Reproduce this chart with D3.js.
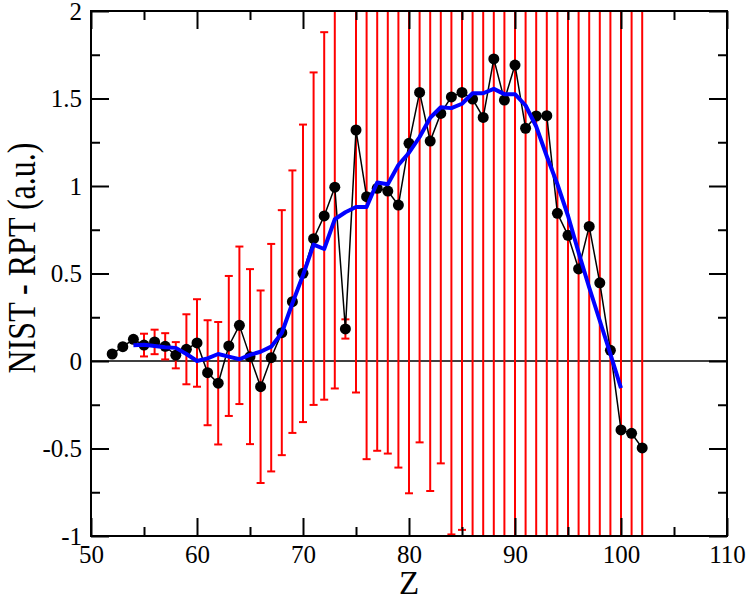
<!DOCTYPE html>
<html>
<head>
<meta charset="utf-8">
<script src="https://cdn.jsdelivr.net/npm/d3@7"></script>
<style>
  body { margin: 0; background: #fff; }
</style>
</head>
<body>
<svg></svg>
<script>
  // measured points (NIST - RPT) per Z, with their error bars
  let zValues = [52, 53, 54, 55, 56, 57, 58, 59, 60, 61, 62, 63, 64, 65, 66, 67, 68, 69, 70,
    71, 72, 73, 74, 75, 76, 77, 78, 79, 80, 81, 82, 83, 84, 85, 86, 87, 88, 89, 90,
    91, 92, 93, 94, 95, 96, 97, 98, 99, 100, 101, 102]
  let diffValues = [0.04, 0.082, 0.124, 0.091, 0.109, 0.084, 0.033, 0.067, 0.103, -0.067,
    -0.127, 0.086, 0.204, 0.025, -0.147, 0.019, 0.162, 0.339, 0.501,
    0.699, 0.829, 0.993, 0.183, 1.32, 0.939, 0.987, 0.971, 0.891, 1.244, 1.535,
    1.257, 1.415, 1.509, 1.535, 1.497, 1.392, 1.726, 1.491, 1.691,
    1.33, 1.40, 1.402, 0.844, 0.718, 0.526, 0.769, 0.447, 0.061, -0.394, -0.413, -0.497]
  let errValues = [0, 0, 0, 0.065, 0.07, 0.075, 0.075, 0.2, 0.25, 0.3, 0.35, 0.4, 0.45, 0.5,
    0.55, 0.65, 0.7, 0.75, 0.85, 0.95, 1.05, 1.15, 0.055, 1.5, 1.5, 1.5, 1.5, 1.5,
    2.0, 2.0, 2.0, 2.0, 2.5, 2.5, 3, 3, 3, 3, 3, 3, 3, 3, 3, 3, 3, 3, 3, 3, 3, 3, 3]

  // smooth (blue) curve
  let fitZ = [54, 55, 56, 57, 58, 59, 60, 61, 62, 63, 64, 65, 66, 67, 68, 69, 70, 71, 72, 73,
    74, 75, 76, 77, 78, 79, 80, 81, 82, 83, 84, 85, 86, 87, 88, 89, 90, 91, 92, 93,
    94, 95, 96, 97, 98, 99, 100]
  let fitValues = [0.09, 0.093, 0.086, 0.078, 0.075, 0.04, 0.0, 0.015, 0.04, 0.025, 0.01,
    0.035, 0.053, 0.082, 0.16, 0.33, 0.49, 0.665, 0.64, 0.81, 0.85, 0.88, 0.88, 1.02,
    1.01, 1.12, 1.19, 1.28, 1.39, 1.45, 1.445, 1.47, 1.53, 1.53, 1.555, 1.525, 1.525,
    1.46, 1.34, 1.17, 1.01, 0.83, 0.62, 0.42, 0.23, 0.04, -0.155]

  let xTicks = [50, 60, 70, 80, 90, 100, 110]
  let xMinorTicks = [55, 65, 75, 85, 95, 105]
  let yTicks = [-1, -0.5, 0, 0.5, 1, 1.5, 2]
  let yMinorTicks = [-0.75, -0.25, 0.25, 0.75, 1.25, 1.75]

  let svgWidth = 747, svgHeight = 599
  let margin = { top: 11, right: 20, bottom: 63, left: 91 }
  let width = svgWidth - margin.left - margin.right
  let height = svgHeight - margin.top - margin.bottom
  let serif = 'Liberation Serif'

  let svg = d3.select('svg')
    .attr('width', svgWidth)
    .attr('height', svgHeight)

  let x = d3.scaleLinear().domain([50, 110]).range([0, width])
  let y = d3.scaleLinear().domain([-1, 2]).range([height, 0])

  let g = svg.append('g')
    .attr('transform', `translate(${margin.left},${margin.top})`)

  g.append('clipPath').attr('id', 'plotclip')
    .append('rect').attr('width', width).attr('height', height)

  let points = zValues.map((z, i) => ({ z: z, v: diffValues[i], e: errValues[i] }))
  let fit = fitZ.map((z, i) => ({ z: z, v: fitValues[i] }))

  let plot = g.append('g').attr('clip-path', 'url(#plotclip)')

  // zero line
  plot.append('line')
    .attr('x1', 0).attr('x2', width)
    .attr('y1', y(0)).attr('y2', y(0))
    .attr('stroke', '#000').attr('stroke-width', 1.5)

  // error bars
  let bars = plot.selectAll('.err')
    .data(points.filter(d => d.e > 0))
    .enter()
    .append('g')
    .attr('class', 'err')
    .attr('stroke', '#ff0000')
    .attr('stroke-width', 2)

  bars.append('line')
    .attr('x1', d => x(d.z)).attr('x2', d => x(d.z))
    .attr('y1', d => y(d.v + d.e)).attr('y2', d => y(d.v - d.e))
  bars.append('line')
    .attr('x1', d => x(d.z) - 4).attr('x2', d => x(d.z) + 4)
    .attr('y1', d => y(d.v + d.e)).attr('y2', d => y(d.v + d.e))
  bars.append('line')
    .attr('x1', d => x(d.z) - 4).attr('x2', d => x(d.z) + 4)
    .attr('y1', d => y(d.v - d.e)).attr('y2', d => y(d.v - d.e))

  // black data line + dots
  let line = d3.line().x(d => x(d.z)).y(d => y(d.v))
  plot.append('path')
    .datum(points)
    .attr('d', line)
    .attr('fill', 'none')
    .attr('stroke', '#000')
    .attr('stroke-width', 1.5)

  plot.selectAll('circle')
    .data(points)
    .enter()
    .append('circle')
    .attr('cx', d => x(d.z))
    .attr('cy', d => y(d.v))
    .attr('r', 5.5)
    .attr('fill', '#000')

  // blue curve
  plot.append('path')
    .datum(fit)
    .attr('d', line)
    .attr('fill', 'none')
    .attr('stroke', '#0000ff')
    .attr('stroke-width', 4)
    .attr('stroke-linejoin', 'round')

  // axes, ticks pointing inward on all four sides
  function styleAxis(sel) {
    sel.attr('font-family', null).attr('font-size', null)
    sel.select('.domain').remove()
    sel.selectAll('line').attr('stroke', '#000').attr('stroke-width', 2)
    sel.selectAll('text')
      .attr('fill', '#000')
      .attr('font-family', serif)
      .attr('font-size', 25)
  }

  g.append('g')
    .attr('transform', `translate(0,${height})`)
    .call(d3.axisBottom(x).tickValues(xTicks).tickSize(-18).tickPadding(9).tickFormat(d => String(d)))
    .call(styleAxis)
  g.append('g')
    .attr('transform', `translate(0,${height})`)
    .call(d3.axisBottom(x).tickValues(xMinorTicks).tickSize(-9).tickFormat(''))
    .call(styleAxis)
  g.append('g')
    .call(d3.axisTop(x).tickValues(xTicks).tickSize(-18).tickFormat(''))
    .call(styleAxis)
  g.append('g')
    .call(d3.axisTop(x).tickValues(xMinorTicks).tickSize(-9).tickFormat(''))
    .call(styleAxis)

  g.append('g')
    .call(d3.axisLeft(y).tickValues(yTicks).tickSize(-18).tickPadding(9).tickFormat(d => String(d)))
    .call(styleAxis)
  g.append('g')
    .call(d3.axisLeft(y).tickValues(yMinorTicks).tickSize(-9).tickFormat(''))
    .call(styleAxis)
  g.append('g')
    .attr('transform', `translate(${width},0)`)
    .call(d3.axisRight(y).tickValues(yTicks).tickSize(-18).tickFormat(''))
    .call(styleAxis)
  g.append('g')
    .attr('transform', `translate(${width},0)`)
    .call(d3.axisRight(y).tickValues(yMinorTicks).tickSize(-9).tickFormat(''))
    .call(styleAxis)

  // frame
  g.append('rect')
    .attr('width', width).attr('height', height)
    .attr('fill', 'none')
    .attr('stroke', '#000')
    .attr('stroke-width', 2)

  // axis titles
  svg.append('text')
    .attr('x', margin.left + x(80))
    .attr('y', 594)
    .attr('text-anchor', 'middle')
    .attr('font-family', serif)
    .attr('font-size', 33)
    .text('Z')

  svg.append('text')
    .attr('transform', 'translate(35,258) rotate(-90) scale(0.8,1)')
    .attr('text-anchor', 'middle')
    .attr('font-family', serif)
    .attr('font-size', 40)
    .text('NIST - RPT (a.u.)')
</script>
</body>
</html>
